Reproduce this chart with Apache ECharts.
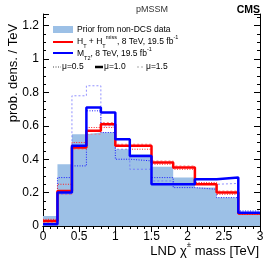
<!DOCTYPE html>
<html><head><meta charset="utf-8">
<script src="https://cdn.jsdelivr.net/npm/echarts@6/dist/echarts.min.js"></script>
<style>html,body{margin:0;padding:0;background:#fff}#c{width:274px;height:263px}</style>
</head><body><div id="c"></div>
<script>
// ---- data ----
const binEdges = [0, 0.2, 0.4, 0.6, 0.8, 1.0, 1.2, 1.5, 1.8, 2.1, 2.4, 2.7, 3.0];
const prior    = [0.06, 0.37, 0.55, 0.56, 0.56, 0.46, 0.43, 0.355, 0.29, 0.23, 0.17, 0.07];
const htMu10   = [0.03, 0.21, 0.47, 0.57, 0.61, 0.48, 0.48, 0.38, 0.35, 0.25, 0.20, 0.075];
const htMu05   = [0.04, 0.25, 0.50, 0.59, 0.59, 0.48, 0.46, 0.37, 0.34, 0.26, 0.19, 0.07];
const htMu15   = [0.02, 0.19, 0.46, 0.55, 0.62, 0.49, 0.49, 0.39, 0.36, 0.25, 0.21, 0.08];
const mt2Mu10  = [0.01, 0.20, 0.48, 0.71, 0.68, 0.52, 0.42, 0.25, 0.25, 0.28, 0.29, 0.08];
const mt2Mu05  = [0.01, 0.29, 0.36, 0.69, 0.56, 0.40, 0.39, 0.29, 0.23, 0.22, 0.17, 0.09];
const mt2Mu15  = [0.01, 0.19, 0.78, 0.84, 0.60, 0.46, 0.34, 0.27, 0.25, 0.25, 0.255, 0.08];
const xTicks = [0, 0.5, 1, 1.5, 2, 2.5, 3];
const yTicks = [0, 0.2, 0.4, 0.6, 0.8, 1, 1.2];

function steps(vals) {
  const pts = [];
  for (let i = 0; i < vals.length; i++) {
    pts.push([binEdges[i], vals[i]]);
    pts.push([binEdges[i + 1], vals[i]]);
  }
  return pts;
}
const FONT = 'Liberation Sans, Arial, Helvetica, sans-serif';
const chart = echarts.init(document.getElementById('c'), null, {renderer: 'canvas'});
function lineSeries(vals, color, width, type, z) {
  return {type: 'line', data: steps(vals), symbol: 'none', xAxisIndex: 0, yAxisIndex: 0,
    lineStyle: {color: color, width: width, type: type}, z: z, animation: false};
}
const yMax = 1.27;
const yLabelFmt = v => (yTicks.some(t => Math.abs(t - v) < 1e-6) ? String(+v.toFixed(1)) : '');
const baseY = {type: 'value', min: 0, max: yMax, splitLine: {show: false}};
const tickStyle = {color: '#000', width: 1};
const supsub = {
  s: {fontSize: 5.5, fontFamily: FONT, verticalAlign: 'bottom', lineHeight: 6, padding: [0, 0, -2, 0]},
  p: {fontSize: 5.5, fontFamily: FONT, verticalAlign: 'top', lineHeight: 6, padding: [-2, 0, 0, 0]}
};
chart.setOption({
  animation: false,
  grid: {left: 43, right: 14, top: 14, bottom: 37},
  xAxis: [
    {type: 'value', min: 0, max: 3, interval: 0.5, position: 'bottom',
     axisLine: {lineStyle: {color: '#000', width: 1}},
     axisTick: {inside: true, length: 6, lineStyle: tickStyle},
     minorTick: {show: true, splitNumber: 5, length: 3, lineStyle: tickStyle},
     splitLine: {show: false}, minorSplitLine: {show: false},
     axisLabel: {color: '#000', fontSize: 12, fontFamily: FONT, margin: 5,
       formatter: v => (xTicks.indexOf(v) >= 0 ? String(v) : '')}},
    {type: 'value', min: 0, max: 3, interval: 0.5, position: 'top',
     axisLine: {lineStyle: {color: '#000', width: 1}},
     axisTick: {inside: true, length: 6, lineStyle: tickStyle},
     minorTick: {show: true, splitNumber: 5, length: 3, lineStyle: tickStyle},
     splitLine: {show: false}, axisLabel: {show: false}}
  ],
  yAxis: [
    Object.assign({}, baseY, {position: 'left', interval: 0.2,
      axisLine: {show: true, lineStyle: {color: '#000', width: 1}},
      axisTick: {show: true, inside: true, length: 6, lineStyle: tickStyle},
      axisLabel: {color: '#000', fontSize: 12, fontFamily: FONT, margin: 4, formatter: yLabelFmt}}),
    Object.assign({}, baseY, {position: 'left', interval: 0.05,
      axisLine: {show: false},
      axisTick: {show: true, inside: true, length: 3, lineStyle: tickStyle},
      axisLabel: {show: false}}),
    Object.assign({}, baseY, {position: 'right', interval: 0.2,
      axisLine: {show: true, lineStyle: {color: '#000', width: 1}},
      axisTick: {show: true, inside: true, length: 6, lineStyle: tickStyle},
      axisLabel: {show: false}}),
    Object.assign({}, baseY, {position: 'right', interval: 0.05,
      axisLine: {show: false},
      axisTick: {show: true, inside: true, length: 3, lineStyle: tickStyle},
      axisLabel: {show: false}})
  ],
  series: [
    {type: 'line', data: steps(prior), symbol: 'none', xAxisIndex: 0, yAxisIndex: 0,
     lineStyle: {width: 0}, areaStyle: {color: '#9cc0e6', opacity: 1, origin: 'start'}, z: 1},
    lineSeries(mt2Mu15, 'rgba(100,100,255,0.7)', 1, [2, 2], 2),
    lineSeries(mt2Mu05, '#1a1aff', 1, [1, 1.5], 2),
    lineSeries(htMu15, 'rgba(255,110,110,0.8)', 1, [2, 2], 3),
    lineSeries(htMu05, '#ff2020', 1, [1, 1.5], 3),
    lineSeries(htMu10, '#ff0000', 2.5, 'solid', 4),
    lineSeries(mt2Mu10, '#0000ff', 2.5, 'solid', 5)
  ],
  graphic: [
    {type: 'text', style: {text: 'pMSSM', x: 152, y: 10, align: 'center', verticalAlign: 'middle',
      font: '9px ' + FONT, fill: '#333'}, z: 10},
    {type: 'text', style: {text: 'CMS', x: 260, y: 10, align: 'right', verticalAlign: 'middle',
      font: 'bold 10.5px ' + FONT, fill: '#000'}, z: 10},
    {type: 'text', x: 13, y: 73, rotation: Math.PI / 2, style: {text: 'prob. dens. / TeV', x: 0, y: 0,
      align: 'center', verticalAlign: 'middle', font: '13px ' + FONT, fill: '#000'}, z: 10},
    {type: 'text', style: {text: 'LND \u03C7{q|\u00B1} mass [TeV]', x: 259, y: 251, align: 'right', verticalAlign: 'middle',
      font: '13px ' + FONT, lineHeight: 15, fill: '#000',
      rich: {q: {fontSize: 8, fontFamily: FONT, verticalAlign: 'top', lineHeight: 8, padding: [-3, 0, 0, 0]}}}, z: 10},
    // legend
    {type: 'rect', shape: {x: 53, y: 26, width: 20, height: 7}, style: {fill: '#9cc0e6'}, z: 10},
    {type: 'text', style: {text: 'Prior from non-DCS data', x: 77, y: 30, verticalAlign: 'middle',
      font: '8.5px ' + FONT, fill: '#000'}, z: 10},
    {type: 'line', shape: {x1: 53, y1: 42, x2: 73, y2: 42}, style: {stroke: '#ff0000', lineWidth: 2}, z: 10},
    {type: 'text', style: {x: 77, y: 42, verticalAlign: 'middle',
      text: 'H{s|T} + H{s|T}{p|miss}, 8 TeV, 19.5 fb{p|-1}', rich: supsub,
      font: '8.5px ' + FONT, lineHeight: 11, fill: '#000'}, z: 10},
    {type: 'line', shape: {x1: 53, y1: 53, x2: 73, y2: 53}, style: {stroke: '#0000ff', lineWidth: 2}, z: 10},
    {type: 'text', style: {x: 77, y: 54, verticalAlign: 'middle',
      text: 'M{s|T2}, 8 TeV, 19.5 fb{p|-1}', rich: supsub,
      font: '8.5px ' + FONT, lineHeight: 11, fill: '#000'}, z: 10},
    {type: 'line', shape: {x1: 53, y1: 67, x2: 61, y2: 67}, style: {stroke: '#444', lineWidth: 1, lineDash: [1, 1.5]}, z: 10},
    {type: 'text', style: {text: '\u03BC=0.5', x: 62, y: 67, verticalAlign: 'middle', font: '8.5px ' + FONT, fill: '#000'}, z: 10},
    {type: 'line', shape: {x1: 95, y1: 67, x2: 103, y2: 67}, style: {stroke: '#000', lineWidth: 2.5}, z: 10},
    {type: 'text', style: {text: '\u03BC=1.0', x: 104, y: 67, verticalAlign: 'middle', font: '8.5px ' + FONT, fill: '#000'}, z: 10},
    {type: 'line', shape: {x1: 137, y1: 67, x2: 145, y2: 67}, style: {stroke: '#aaa', lineWidth: 1, lineDash: [2, 2]}, z: 10},
    {type: 'text', style: {text: '\u03BC=1.5', x: 146, y: 67, verticalAlign: 'middle', font: '8.5px ' + FONT, fill: '#000'}, z: 10}
  ]
});
</script></body></html>
